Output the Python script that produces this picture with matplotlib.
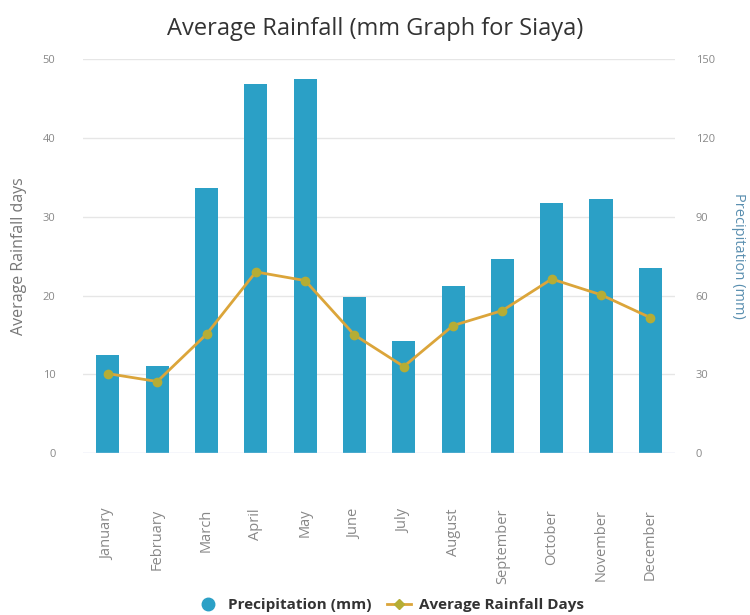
import matplotlib
matplotlib.use("Agg")
import matplotlib.pyplot as plt
from matplotlib.lines import Line2D

months = ["January", "February", "March", "April", "May", "June", "July",
          "August", "September", "October", "November", "December"]
precip_mm = [37.3, 33.3, 101.0, 140.5, 142.4, 59.4, 42.8, 63.6, 73.9, 95.2, 96.7, 70.4]
rain_days = [10.1, 9.1, 15.1, 23.0, 21.9, 15.0, 11.0, 16.2, 18.1, 22.1, 20.1, 17.2]
left_ticks = [0, 10, 20, 30, 40, 50]
right_ticks = [0, 30, 60, 90, 120, 150]

plt.rcParams['font.family'] = ['Open Sans', 'DejaVu Sans']

bar_color = '#2ba0c6'
line_color = '#dba53a'
marker_color = '#b5ad35'
tick_color = '#888888'
grid_color = '#e6e6e6'

fig = plt.figure(figsize=(7.5, 6.15), dpi=100)
ax = fig.add_axes([0.111, 0.263, 0.789, 0.641])
ax2 = ax.twinx()

x = list(range(len(months)))
ax2.bar(x, precip_mm, width=0.47, color=bar_color, zorder=2)
ax2.set_ylim(0, 150)
ax2.set_yticks(right_ticks)

ax.plot(x, rain_days, color=line_color, linewidth=2, marker='o', markersize=6,
        markerfacecolor=marker_color, markeredgecolor=marker_color, zorder=5)
ax.set_ylim(0, 50)
ax.set_yticks(left_ticks)
ax.set_xlim(-0.5, len(months) - 0.5)
ax.set_zorder(ax2.get_zorder() + 1)
ax.patch.set_visible(False)

ax2.grid(False)
for t in left_ticks[1:]:
    ax2.axhline(t * 3, color=grid_color, linewidth=1, zorder=0)

ax.set_xticks(x)
ax.set_xticklabels(months, rotation=90, fontsize=10.5, color=tick_color)
ax.tick_params(axis='x', length=0, pad=40)
ax.tick_params(axis='y', length=0, labelsize=8, labelcolor=tick_color, pad=20)
ax2.tick_params(axis='y', length=0, labelsize=8, labelcolor=tick_color, pad=15)

for a in (ax, ax2):
    for s in a.spines.values():
        s.set_visible(False)
ax2.axhline(0, color='#ccd6eb', linewidth=1, zorder=3)

ax.set_ylabel("Average Rainfall days", fontsize=11.5, color='#777777', labelpad=11)
ax2.set_ylabel("Precipitation (mm)", fontsize=10.5, color='#5a8fb0', rotation=270, labelpad=22)

fig.suptitle("Average Rainfall (mm Graph for Siaya)", fontsize=17, color='#333333', y=0.972)

handles = [
    Line2D([], [], linestyle='none', marker='o', markersize=9,
           markerfacecolor=bar_color, markeredgecolor=bar_color),
    Line2D([], [], color=line_color, linewidth=2, marker='D', markersize=5,
           markerfacecolor=marker_color, markeredgecolor=marker_color),
]
leg = fig.legend(handles, ["Precipitation (mm)", "Average Rainfall Days"],
                 loc='center', bbox_to_anchor=(0.52, 0.016), ncol=2, frameon=False,
                 prop={'weight': 'bold', 'size': 11}, handlelength=1.6,
                 columnspacing=1.0, handletextpad=0.5)
for t in leg.get_texts():
    t.set_color('#333333')

fig.savefig("out.png", dpi=100, facecolor='white')
